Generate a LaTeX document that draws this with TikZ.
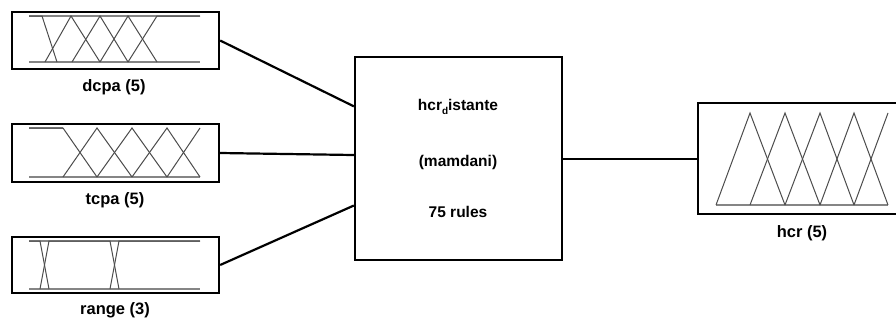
\documentclass[tikz,border=0pt]{standalone}
\usepackage{fontspec}
\setmainfont{Liberation Sans}
\usetikzlibrary{calc}
\begin{document}
\begin{tikzpicture}[x=1pt,y=-1pt,
  varbox/.style={draw=black, line width=2.3pt, minimum width=207pt, inner sep=0pt},
  fisbox/.style={draw=black, line width=2.3pt, minimum width=207pt, minimum height=203pt, inner sep=0pt},
  conn/.style={draw=black, line width=2.2pt},
  outconn/.style={draw=black, line width=2pt},
  mf/.style={draw=black!70, line width=1pt, line join=miter},
  bar/.style={draw=black!48, line width=1.8pt},
  lbl/.style={font=\fontsize{16.5}{19}\selectfont\bfseries, inner sep=0pt},
  fistxt/.style={font=\fontsize{15.5}{18}\selectfont\bfseries, inner sep=0pt}]
\useasboundingbox (0,0) rectangle (896,324);
\clip (0,0) rectangle (896,324);
\fill[white] (0,0) rectangle (896,324);

% input variable blocks
\node[varbox, minimum height=57pt] (dcpa)  at (115.5,40.5) {};
\node[varbox, minimum height=58pt] (tcpa)  at (115.5,153) {};
\node[varbox, minimum height=56pt] (range) at (115.5,265) {};
% inference system block
\node[fisbox] (fis) at (458.5,158.5) {};
% output variable block
\node[varbox, minimum height=111pt] (hcr) at (801.5,158.5) {};

% labels under the variable blocks
\node[lbl] (ldcpa)  at (114,87)  {dcpa (5)};
\node[lbl] (ltcpa)  at (115,200) {tcpa (5)};
\node[lbl] (lrange) at (115,310) {range (3)};
\node[lbl] (lhcr)   at (802,233) {hcr (5)};

% text inside the inference block
\node[fistxt] (fname)  at (458,107) {hcr\raisebox{-0.5ex}{\fontsize{10}{10}\selectfont d}istante};
\node[fistxt] (ftype)  at (458,162) {(mamdani)};
\node[fistxt] (frules) at (458,212) {75 rules};

% connectors
\draw[conn] (dcpa.east)  -- ($(fis.north west)!0.246!(fis.south west)$);
\draw[conn] (tcpa.east)  -- ($(fis.north west)!0.483!(fis.south west)$);
\draw[conn] (range.east) -- ($(fis.north west)!0.729!(fis.south west)$);
\draw[outconn] (fis.east) -- (hcr.west);

% dcpa membership functions
\draw[bar] (29,16) -- (200,16);
\draw[bar] (29,62) -- (200,62);
\draw[mf] (29,16) -- (42,16) -- (57,62);
\draw[mf] (45,62) -- (71,16) -- (100,62);
\draw[mf] (72,62) -- (100,16) -- (128,62);
\draw[mf] (100,62) -- (128,16) -- (157,62);
\draw[mf] (128,62) -- (157,16) -- (200,16);

% tcpa membership functions
\draw[bar] (29,128) -- (63,128);
\draw[bar] (29,177) -- (200,177);
\draw[mf] (29,128) -- (63,128) -- (97,177);
\draw[mf] (63,177) -- (97,128) -- (132,177);
\draw[mf] (97,177) -- (132,128) -- (167,177);
\draw[mf] (132,177) -- (167,128) -- (200,177);
\draw[mf] (167,177) -- (200,128);

% range membership functions
\draw[bar] (29,241) -- (200,241);
\draw[bar] (29,289) -- (200,289);
\draw[mf] (29,241) -- (40,241) -- (49,289);
\draw[mf] (40,289) -- (49,241) -- (110,241) -- (119,289);
\draw[mf] (110,289) -- (119,241) -- (200,241);

% hcr membership functions
\draw[bar] (716,205) -- (888,205);
\draw[mf] (716,205) -- (750,113) -- (785,205);
\draw[mf] (750,205) -- (785,113) -- (820,205);
\draw[mf] (785,205) -- (820,113) -- (854,205);
\draw[mf] (820,205) -- (854,113) -- (888,205);
\draw[mf] (854,205) -- (888,113);
\end{tikzpicture}
\end{document}
